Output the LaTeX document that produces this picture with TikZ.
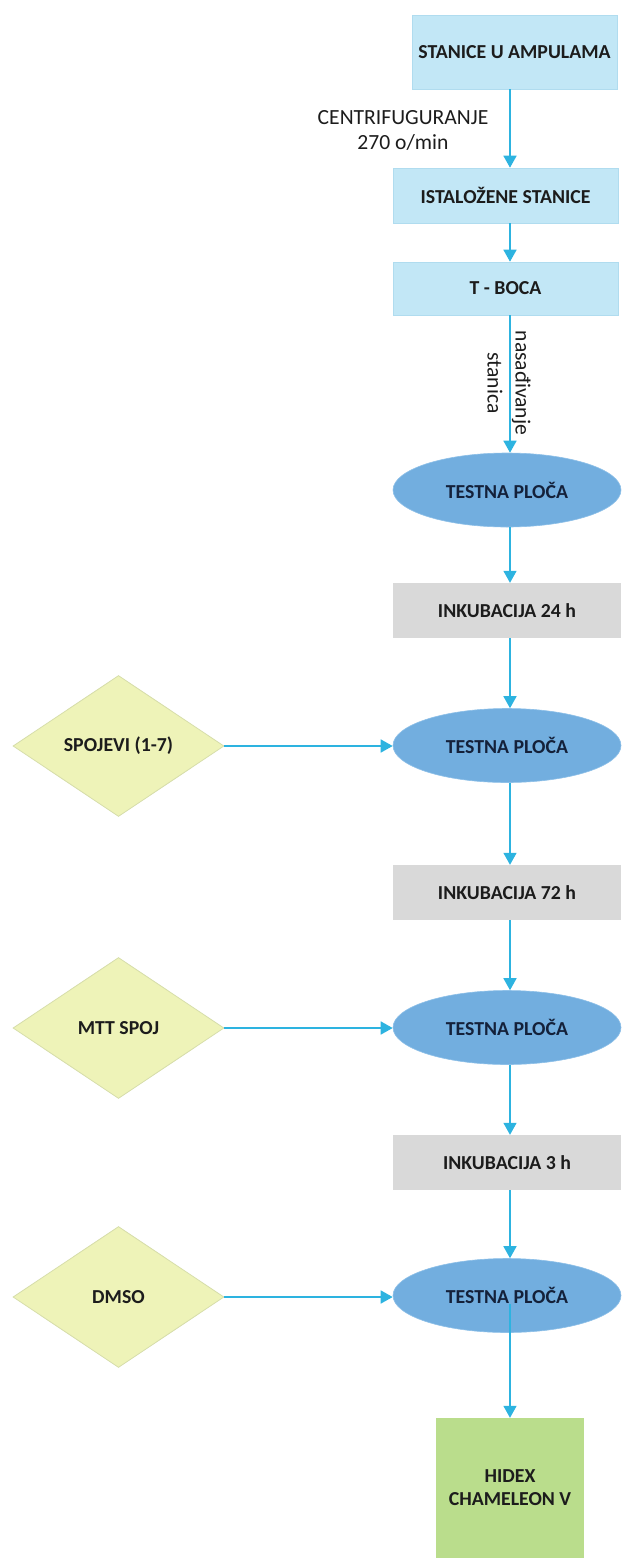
\documentclass[tikz,border=0pt]{standalone}
\usepackage{fontspec}
\setmainfont{Carlito}
\usetikzlibrary{arrows.meta,shapes.geometric,calc}
\definecolor{boxblue}{HTML}{C2E7F6}
\definecolor{boxblueline}{HTML}{B0DCEF}
\definecolor{ellblue}{HTML}{72AEDF}
\definecolor{ellline}{HTML}{8EC0E8}
\definecolor{boxgray}{HTML}{D9D9D9}
\definecolor{diafill}{HTML}{EEF3B8}
\definecolor{dialine}{HTML}{D6DDAA}
\definecolor{greenbox}{HTML}{BADD8C}
\definecolor{arrowc}{HTML}{2DB3E0}
\definecolor{txt}{HTML}{1C1C1C}
\definecolor{etxt}{HTML}{14213A}
\tikzset{
  lbl/.style={font=\fontsize{19.8}{23}\selectfont\bfseries, text=txt, inner sep=0pt, align=center},
  bluebox/.style={lbl, rectangle, fill=boxblue, draw=boxblueline, line width=0.6pt},
  graybox/.style={lbl, rectangle, fill=boxgray, draw=none},
  plate/.style={lbl, text=etxt, ellipse, fill=ellblue, draw=ellline, line width=0.6pt, minimum width=228pt, minimum height=74pt},
  reagent/.style={lbl, diamond, fill=diafill, draw=dialine, line width=0.8pt, minimum width=211pt, minimum height=141pt, aspect=1.5},
  reader/.style={lbl, rectangle, fill=greenbox, draw=none},
  arr/.style={draw=arrowc, line width=1.6pt, -{Triangle[width=13pt,length=12pt,fill=arrowc]}},
  note/.style={font=\fontsize{21.6}{25}\selectfont, text=txt, inner sep=0pt, align=center}
}
\begin{document}
\begin{tikzpicture}[x=1pt,y=-1pt]
\useasboundingbox (0,0) rectangle (622,1561);
\coordinate (axis) at (510,0);
\node[bluebox, minimum width=205pt, minimum height=74pt] (b1) at (514.5,52) {STANICE U AMPULAMA};
\node[bluebox, minimum width=225pt, minimum height=55pt] (b2) at (505.5,195.5) {ISTALOŽENE STANICE};
\node[bluebox, minimum width=225pt, minimum height=53pt] (b3) at (505.5,288.5) {T - BOCA};
\node[plate] (e1) at (507,490) {TESTNA PLOČA};
\node[graybox, minimum width=228pt, minimum height=55pt] (g1) at (507,610.5) {INKUBACIJA 24 h};
\node[plate] (e2) at (507,745.5) {TESTNA PLOČA};
\node[graybox, minimum width=228pt, minimum height=55pt] (g2) at (507,892.5) {INKUBACIJA 72 h};
\node[plate] (e3) at (507,1027.5) {TESTNA PLOČA};
\node[graybox, minimum width=228pt, minimum height=55pt] (g3) at (507,1162.5) {INKUBACIJA 3 h};
\node[plate] (e4) at (507,1295.5) {TESTNA PLOČA};
\node[reader, minimum width=148pt, minimum height=140pt] (r) at (510,1488) {HIDEX\\CHAMELEON V};
\node[reagent] (d1) at (118.5,746) {SPOJEVI (1-7)};
\node[reagent] (d2) at (118.5,1028) {MTT SPOJ};
\node[reagent] (d3) at (118.5,1297) {DMSO};
\node[note] (c1) at (403,130) {CENTRIFUGURANJE\\270 o/min};
\node[note, font=\fontsize{21.6}{28}\selectfont, rotate=-90] (c2) at (509,383) {nasađivanje\\stanica};
\draw[arr] (b1.south -| axis) -- (b2.north -| axis);
\draw[arr] (b2.south -| axis) -- (b3.north -| axis);
\draw[arr] (b3.south -| axis) -- (e1.north -| axis);
\draw[arr] (e1.south -| axis) -- (g1.north -| axis);
\draw[arr] (g1.south -| axis) -- (e2.north -| axis);
\draw[arr] (e2.south -| axis) -- (g2.north -| axis);
\draw[arr] (g2.south -| axis) -- (e3.north -| axis);
\draw[arr] (e3.south -| axis) -- (g3.north -| axis);
\draw[arr] (g3.south -| axis) -- (e4.north -| axis);
\draw[arr] ($(e4.center -| axis)+(0,8)$) -- (r.north -| axis);
\draw[arr] (d1.east) -- (d1.east -| e2.west);
\draw[arr] (d2.east) -- (d2.east -| e3.west);
\draw[arr] (d3.east) -- (d3.east -| e4.west);
\end{tikzpicture}
\end{document}
